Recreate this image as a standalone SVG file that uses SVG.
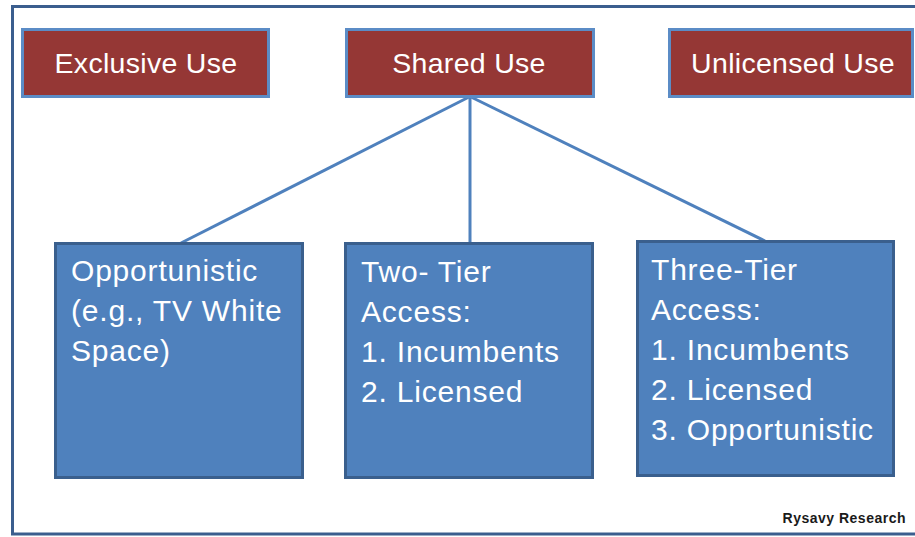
<svg xmlns="http://www.w3.org/2000/svg" width="915" height="537" viewBox="0 0 915 537">
  <style>
    .top rect { fill: #953735; stroke: #5b8cc6; stroke-width: 3; }
    .top text { fill: #ffffff; font-family: "Liberation Sans", Arial, sans-serif; font-size: 28.5px; letter-spacing: 0.3px; text-anchor: middle; }
    .bot rect { fill: #4f81bd; stroke: #3a5f8d; stroke-width: 3; }
    .bot text { fill: #ffffff; font-family: "Liberation Sans", Arial, sans-serif; font-size: 30px; letter-spacing: 0.8px; }
    .conn line { stroke: #4f81bd; stroke-width: 3; }
  </style>
  <rect x="0" y="0" width="915" height="537" fill="#ffffff"/>
  <rect x="12.5" y="6.5" width="920" height="527.5" fill="#ffffff" stroke="#3b5e8e" stroke-width="3"/>
  <g id="connectors" class="conn">
    <line x1="469" y1="97" x2="181" y2="243"/>
    <line x1="470" y1="97" x2="470" y2="243"/>
    <line x1="471" y1="97" x2="765" y2="241"/>
  </g>
  <g id="exclusive-use" class="top">
    <rect x="22.5" y="29.5" width="246" height="67"/>
    <text x="146" y="73">Exclusive Use</text>
  </g>
  <g id="shared-use" class="top">
    <rect x="346.5" y="29.5" width="247" height="67"/>
    <text x="469" y="73">Shared Use</text>
  </g>
  <g id="unlicensed-use" class="top">
    <rect x="669.5" y="29.5" width="243" height="67"/>
    <text x="793" y="73">Unlicensed Use</text>
  </g>
  <g id="opportunistic" class="bot">
    <rect x="55.5" y="243.5" width="247" height="234"/>
    <text x="71" y="281">Opportunistic</text>
    <text x="71" y="321">(e.g., TV White</text>
    <text x="71" y="361">Space)</text>
  </g>
  <g id="two-tier" class="bot">
    <rect x="345.5" y="243.5" width="247" height="234"/>
    <text x="361" y="282">Two- Tier</text>
    <text x="361" y="322">Access:</text>
    <text x="361" y="362">1. Incumbents</text>
    <text x="361" y="402">2. Licensed</text>
  </g>
  <g id="three-tier" class="bot">
    <rect x="637.5" y="241.5" width="256" height="234"/>
    <text x="651" y="280">Three-Tier</text>
    <text x="651" y="320">Access:</text>
    <text x="651" y="360">1. Incumbents</text>
    <text x="651" y="400">2. Licensed</text>
    <text x="651" y="440">3. Opportunistic</text>
  </g>
  <text x="906" y="523" font-family="Liberation Sans, Arial, sans-serif" font-size="14" letter-spacing="0.5" font-weight="bold" fill="#1a1a1a" text-anchor="end">Rysavy Research</text>
</svg>
